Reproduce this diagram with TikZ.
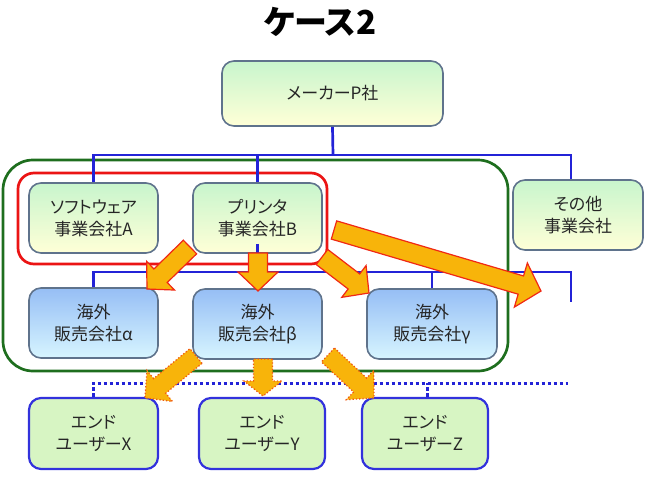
\documentclass[tikz,border=0pt]{standalone}
\usepackage{fontspec}
\newfontfamily\jp{Noto Sans CJK JP}[RawFeature=+palt]
\usetikzlibrary{calc}
\definecolor{boxline}{RGB}{95,115,140}
\definecolor{gtop}{RGB}{200,245,205}
\definecolor{gbot}{RGB}{255,255,215}
\definecolor{btop}{RGB}{150,190,245}
\definecolor{bbot}{RGB}{215,245,255}
\definecolor{efill}{RGB}{215,245,195}
\definecolor{endline}{RGB}{50,50,220}
\definecolor{bluel}{RGB}{35,35,215}
\definecolor{greenl}{RGB}{30,110,30}
\definecolor{redl}{RGB}{235,20,20}
\definecolor{arrfill}{RGB}{248,180,10}
\definecolor{arrline}{RGB}{240,40,20}
\definecolor{arrdot}{RGB}{240,90,20}
\newcommand{\drawfatarrow}[6]{%
  \coordinate (fah) at ($(#2)!#5!(#1)$);
  \path[#6] ($(#1)!#3!90:(#2)$) -- ($(fah)!#3!90:(#2)$) -- ($(fah)!#4!90:(#2)$) -- (#2)
    -- ($(fah)!#4!-90:(#2)$) -- ($(fah)!#3!-90:(#2)$) -- ($(#1)!#3!-90:(#2)$) -- cycle;
}
\tikzset{
  base/.style={rectangle, rounded corners=12pt, line width=1.6pt, align=center,
    font=\jp\fontsize{17}{22}\selectfont, inner sep=0pt, text=black!85},
  bizbox/.style={base, draw=boxline, top color=gtop, bottom color=gbot},
  seabox/.style={base, draw=boxline, top color=btop, bottom color=bbot},
  endbox/.style={base, draw=endline, line width=2.2pt, fill=efill},
  conn/.style={draw=bluel, line width=2.7pt},
  dotconn/.style={draw=bluel, line width=3pt, dash pattern=on 3.5pt off 2.5pt},
  solidarr/.style={fill=arrfill, draw=arrline, line width=1.2pt, line join=miter},
  dotarr/.style={fill=arrfill, draw=arrdot, line width=1.3pt, dotted},
}
\begin{document}
\begin{tikzpicture}[x=1pt,y=-1pt]
\useasboundingbox (0,0) rectangle (649,491);
\node[font=\jp\bfseries\fontsize{33}{40}\selectfont] (title) at (320,22) {ケース2};
% containers
\draw[greenl, line width=2.7pt, rounded corners=30pt] (3,160) rectangle (508,371);
\draw[redl, line width=2.7pt, rounded corners=16pt] (18,173) rectangle (327,264);
% nodes
\node[bizbox, minimum width=221, minimum height=65] (maker) at (332.5,93.5) {メーカーP社};
\node[bizbox, minimum width=129, minimum height=70] (soft) at (93.5,218) {ソフトウェア\\事業会社A};
\node[bizbox, minimum width=129, minimum height=70] (printer) at (257.5,218) {プリンタ\\事業会社B};
\node[bizbox, minimum width=130, minimum height=70] (other) at (578,215) {その他\\事業会社};
\node[seabox, minimum width=129, minimum height=70] (alpha) at (93.5,323) {海外\\販売会社α};
\node[seabox, minimum width=129, minimum height=70] (beta) at (257.5,324) {海外\\販売会社β};
\node[seabox, minimum width=130, minimum height=70] (gamma) at (432,324) {海外\\販売会社γ};
\node[endbox, minimum width=129, minimum height=71] (X) at (93.5,433.5) {エンド\\ユーザーX};
\node[endbox, minimum width=126, minimum height=71] (Y) at (262,433.5) {エンド\\ユーザーY};
\node[endbox, minimum width=126, minimum height=71] (Z) at (425,433.5) {エンド\\ユーザーZ};
% connectors
\coordinate (b1) at (333,155);
\coordinate (b2) at (571,272);
\coordinate (b2e) at (571,302);
\coordinate (d1) at (568,383);
\draw[conn] (maker.south) -- (b1);
\draw[conn] (soft.north) |- (b1) -| ([xshift=-7pt]other.north);
\draw[conn] (printer.north) -- (printer.north |- b1);
\draw[conn] (alpha.north) |- (b2) -- (b2e);
\draw[conn] (beta.north) -- (beta.north |- b2);
\draw[conn] (gamma.north) -- (gamma.north |- b2);
\draw[conn] ([yshift=10pt]printer.south) -- (printer.south |- b2);
\draw[dotconn] (X.north) |- (d1);
\draw[dotconn] ([xshift=2pt]Z.north) -- ([xshift=2pt]Z.north |- d1);
% arrows
\coordinate (a1s) at (190,247); \coordinate (a1t) at (147,289);
\coordinate (a2s) at (258,253); \coordinate (a2t) at (258,291);
\coordinate (a3s) at (322,257); \coordinate (a3t) at (369,293);
\coordinate (a4s) at (334,230); \coordinate (a4t) at (541,291);
\coordinate (a5s) at (196,356); \coordinate (a5t) at (145,398);
\coordinate (a6s) at (263,359); \coordinate (a6t) at (263,396);
\coordinate (a7s) at (328,355); \coordinate (a7t) at (374,398);
\drawfatarrow{a1s}{a1t}{9.5pt}{20pt}{19pt}{solidarr}
\drawfatarrow{a2s}{a2t}{9.5pt}{20pt}{19pt}{solidarr}
\drawfatarrow{a3s}{a3t}{9.5pt}{20pt}{19pt}{solidarr}
\drawfatarrow{a4s}{a4t}{9.5pt}{23pt}{21pt}{solidarr}
\drawfatarrow{a5s}{a5t}{9.5pt}{20pt}{19pt}{dotarr}
\drawfatarrow{a6s}{a6t}{9.5pt}{19pt}{15pt}{dotarr}
\drawfatarrow{a7s}{a7t}{9.5pt}{20pt}{19pt}{dotarr}
\end{tikzpicture}
\end{document}
